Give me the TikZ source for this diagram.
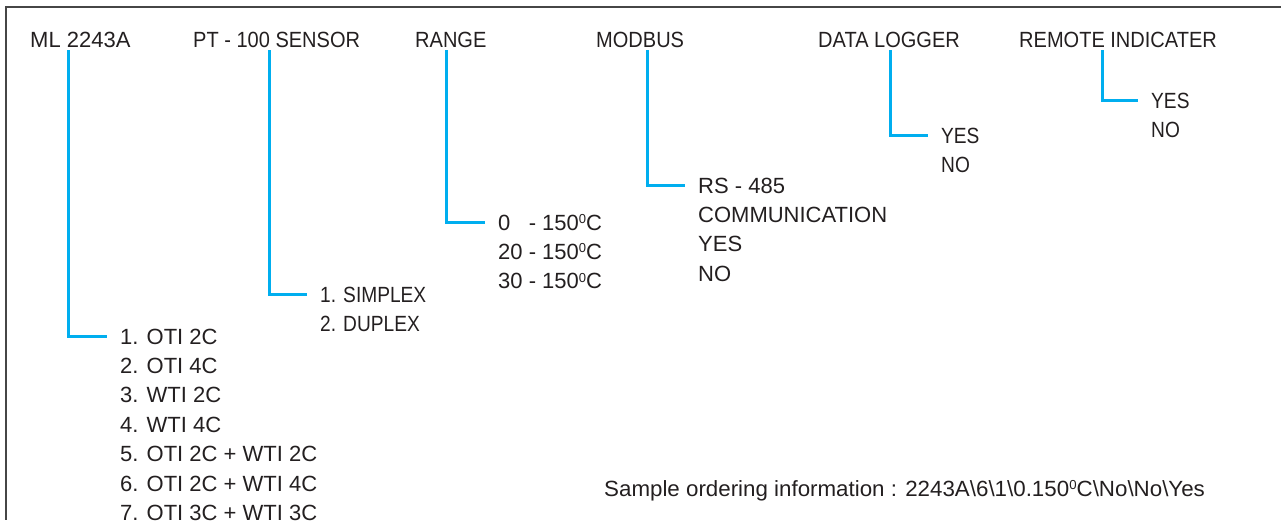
\documentclass[tikz,border=0pt]{standalone}
\usepackage[RGB]{xcolor}
\usepackage{fontspec}
\setmainfont{Liberation Sans}
\newfontfamily\headfont[FakeStretch=0.91]{Liberation Sans}
\newfontfamily\narrowfont[FakeStretch=0.87]{Liberation Sans}
\newfontfamily\widefont[FakeStretch=1.015]{Liberation Sans}
\usepackage{tikz}
\definecolor{ink}{RGB}{35,31,32}
\definecolor{branchblue}{RGB}{0,174,239}
\definecolor{framegray}{RGB}{70,70,70}
\newcommand{\optionlist}[5][]{
    \foreach \txt [count=\i] in {#5}{
      \node[opt,#1] (#2-\i) at (#3,{#4+29.4*(\i-1)}) {\txt};
    }
}
\newcommand{\branch}[2]{\draw[branchline] (#1.south -| #2,0) |- (#1-1.west);}
\newcommand{\degC}{\raisebox{6.5pt}{\fontsize{13}{13}\selectfont 0}C}

\begin{document}
\begin{tikzpicture}[x=1pt,y=-1pt,
    every node/.style={font=\fontsize{22}{26}\selectfont,text=ink},
    hdr/.style={anchor=west,inner xsep=0pt,inner ysep=3pt,text height=16pt,text depth=0pt,font=\headfont\fontsize{22}{26}\selectfont},
    opt/.style={anchor=west,inner xsep=13pt,inner ysep=0pt,text height=16pt,text depth=0pt},
    narrow/.style={font=\narrowfont\fontsize{22}{26}\selectfont},
    branchline/.style={draw=branchblue,line width=3pt},
    frame/.style={draw=framegray,line width=1.4pt}]
\useasboundingbox (0,0) rectangle (1281,520);
\draw[frame] (1281,7)--(6,7)--(6,520);
% headings
\node[hdr,font=\fontsize{22}{26}\selectfont] (ml) at (30,39) {ML 2243A};
\node[hdr] (pt) at (193,39) {PT - 100 SENSOR};
\node[hdr] (rg) at (415,39) {RANGE};
\node[hdr] (mb) at (596,39) {MODBUS};
\node[hdr] (dl) at (818,39) {DATA LOGGER};
\node[hdr] (ri) at (1019,39) {REMOTE INDICATER};
% choices
\optionlist{ml}{107}{336}{1. OTI 2C,2. OTI 4C,3. WTI 2C,4. WTI 4C,5. OTI 2C + WTI 2C,6. OTI 2C + WTI 4C,7. OTI 3C + WTI 3C}
\optionlist[narrow]{pt}{307}{294}{1. SIMPLEX,2. DUPLEX}
\optionlist{rg}{485}{222}{0\hphantom{0} - 150\degC,20 - 150\degC,30 - 150\degC}
\optionlist{mb}{685}{185}{RS - 485,COMMUNICATION,YES,NO}
\optionlist[narrow]{dl}{928}{135}{YES,NO}
\optionlist[narrow]{ri}{1138}{100}{YES,NO}
% connectors
\branch{ml}{68}
\branch{pt}{269}
\branch{rg}{446}
\branch{mb}{647}
\branch{dl}{890}
\branch{ri}{1102}
\node[hdr,font=\widefont\fontsize{22}{26}\selectfont] (sample) at (604,488) {Sample ordering information : 2243A\textbackslash 6\textbackslash 1\textbackslash 0.150\degC\textbackslash No\textbackslash No\textbackslash Yes};
\end{tikzpicture}
\end{document}
